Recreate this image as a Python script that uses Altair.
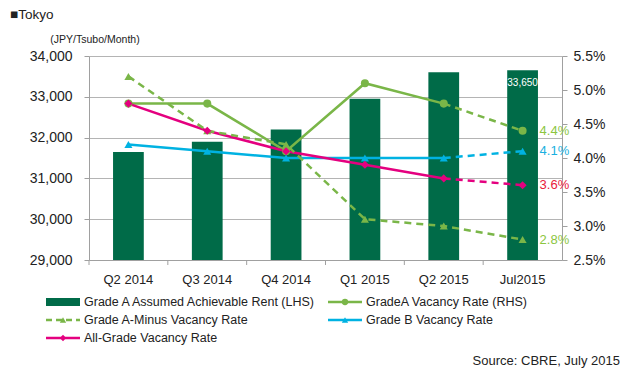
import altair as alt
import pandas as pd

# ---------------- data ----------------
categories = ["Q2 2014", "Q3 2014", "Q4 2014", "Q1 2015", "Q2 2015", "Jul2015"]
rent = [31650, 31900, 32200, 32950, 33600, 33650]

series_names = [
    "GradeA Vacancy Rate (RHS)",
    "Grade A-Minus Vacancy Rate",
    "Grade B Vacancy Rate",
    "All-Grade Vacancy Rate",
]
grade_a = [4.8, 4.8, 4.1, 5.1, 4.8, 4.4]
grade_a_minus = [5.2, 4.4, 4.2, 3.1, 3.0, 2.8]
grade_b = [4.2, 4.1, 4.0, 4.0, 4.0, 4.1]
all_grade = [4.8, 4.4, 4.1, 3.9, 3.7, 3.6]
end_labels = ["4.4%", "2.8%", "4.1%", "3.6%"]

rent_name = "Grade A Assumed Achievable Rent  (LHS)"
legend_names = [rent_name] + series_names
legend_col = [0, 1, 0, 1, 0]
legend_row = [0, 0, 1, 1, 2]

colors = ["#006b48", "#7ab648", "#7ab648", "#00b2e2", "#e4007f"]
shapes = ["circle", "triangle-up", "triangle-up", "diamond"]
label_colors = ["#8cc63f", "#8cc63f", "#1ab0e0", "#e8203a"]

FONT = "Liberation Sans"
TXT = "#222222"
W, H = 473, 204

# ---------------- frames ----------------
rent_df = pd.DataFrame({"cat": categories, "rent": rent, "label": [f"{v:,}" for v in rent]})

vals = [grade_a, grade_a_minus, grade_b, all_grade]
rows = []
for name, v, lab in zip(series_names, vals, end_labels):
    for i, (c, y) in enumerate(zip(categories, v)):
        rows.append({"cat": c, "idx": i, "series": name, "value": y,
                     "label": lab if i == len(categories) - 1 else ""})
lines_df = pd.DataFrame(rows)
n = len(categories)
solid_df = lines_df[(lines_df.idx <= n - 2) & (lines_df.series != series_names[1])]
dash_df = lines_df[(lines_df.idx >= n - 2) & (lines_df.series != series_names[1])]
aminus_df = lines_df[lines_df.series == series_names[1]]
end_df = lines_df[lines_df.idx == n - 1]

legend_df = pd.DataFrame({"name": legend_names, "col": legend_col, "row": legend_row})

color_scale = alt.Scale(domain=legend_names, range=colors)
shape_scale = alt.Scale(domain=series_names, range=shapes)

# ---------------- left (rent) layer ----------------
bars = alt.Chart(rent_df).mark_bar(color=colors[0], width=alt.RelativeBandSize(0.39), clip=True).encode(
    x=alt.X("cat:N", sort=categories, scale=alt.Scale(paddingInner=0, paddingOuter=0),
            axis=alt.Axis(title=None, ticks=False, labelAngle=0, labelOverlap=False,
                          labelFont=FONT, labelFontSize=13,
                          labelColor=TXT, labelPadding=13, domainColor="#a0a0a0")),
    y=alt.Y("rent:Q", scale=alt.Scale(domain=[29000, 34000], nice=False),
            axis=alt.Axis(title=None, values=[29000, 30000, 31000, 32000, 33000, 34000],
                          labelExpr="format(datum.value, ',')", labelFont=FONT,
                          labelFontSize=14, labelColor=TXT,
                          tickSize=5, tickColor="#a0a0a0", domainColor="#a0a0a0",
                          gridColor="#b4b4b4", labelPadding=12)),
)
bar_label = alt.Chart(rent_df[rent_df.cat == categories[-1]]).mark_text(
    color="white", font=FONT, fontSize=10, dy=13
).encode(x=alt.X("cat:N", sort=categories), y="rent:Q", text="label:N")
xticks = alt.Chart(rent_df).mark_rule(color="#a0a0a0").encode(
    x=alt.X("cat:N", sort=categories, bandPosition=0),
    y=alt.value(H), y2=alt.value(H + 5),
)
left = alt.layer(bars, bar_label, xticks)

# ---------------- right (vacancy) layer ----------------
yr = alt.Y("value:Q", scale=alt.Scale(domain=[2.5, 5.5], nice=False),
           axis=alt.Axis(title=None, orient="right", values=[2.5, 3.0, 3.5, 4.0, 4.5, 5.0, 5.5],
                         labelExpr="format(datum.value, '.1f') + '%'", grid=False,
                         labelFont=FONT, labelFontSize=14, labelColor=TXT,
                         tickSize=5, tickColor="#a0a0a0", domainColor="#a0a0a0", labelPadding=6))
xr = alt.X("cat:N", sort=categories, scale=alt.Scale(paddingInner=0, paddingOuter=0), axis=None)
col_enc = alt.Color("series:N", scale=color_scale, legend=None)

solid = alt.Chart(solid_df).mark_line(strokeWidth=2.5).encode(
    x=xr, y=yr, color=col_enc, detail="series:N", order="idx:Q")
dashed = alt.Chart(dash_df).mark_line(strokeWidth=2.5, strokeDash=[7, 5]).encode(
    x=xr, y=yr, color=col_enc, detail="series:N", order="idx:Q")
aminus = alt.Chart(aminus_df).mark_line(strokeWidth=2.5, strokeDash=[7, 5]).encode(
    x=xr, y=yr, color=col_enc, order="idx:Q")
pts = alt.Chart(lines_df).mark_point(filled=True, size=65, opacity=1).encode(
    x=xr, y=yr, color=col_enc,
    shape=alt.Shape("series:N", scale=shape_scale, legend=None))
ends = alt.Chart(end_df).mark_text(align="left", dx=17, font=FONT, fontSize=13).encode(
    x=xr, y=yr, text="label:N",
    color=alt.Color("series:N", scale=alt.Scale(domain=series_names, range=label_colors), legend=None))
right = alt.layer(solid, dashed, aminus, pts, ends).resolve_scale(color="independent")

# ---------------- legend layer ----------------
lx = alt.X("col:Q", scale=alt.Scale(domain=[0, 1], range=[-43, 239]), axis=None)
ly = alt.Y("row:Q", scale=alt.Scale(domain=[0, 2], range=[246, 282]), axis=None)
lc = alt.Color("name:N", scale=color_scale, legend=None)
lg_rect = alt.Chart(legend_df[legend_df.name == rent_name]).mark_rect(
    x2Offset=34, yOffset=-4, y2Offset=4).encode(x=lx, x2="col:Q", y=ly, y2="row:Q", color=lc)
lg_solid = alt.Chart(legend_df[legend_df.name.isin([series_names[0], series_names[2], series_names[3]])]).mark_rule(
    x2Offset=34, strokeWidth=2.5).encode(x=lx, x2="col:Q", y=ly, color=lc)
lg_dash = alt.Chart(legend_df[legend_df.name == series_names[1]]).mark_rule(
    x2Offset=34, strokeWidth=2.5, strokeDash=[6, 4]).encode(x=lx, x2="col:Q", y=ly, color=lc)
lg_pts = alt.Chart(legend_df[legend_df.name != rent_name]).mark_point(
    filled=True, size=40, opacity=1, xOffset=17).encode(
    x=lx, y=ly, color=lc, shape=alt.Shape("name:N", scale=shape_scale, legend=None))
lg_text = alt.Chart(legend_df).mark_text(align="left", dx=38, font=FONT, fontSize=12.5,
                                         color=TXT).encode(x=lx, y=ly, text="name:N")

# ---------------- free texts ----------------
texts_df = pd.DataFrame({"t": ["■Tokyo", "(JPY/Tsubo/Month)", "Source: CBRE, July 2015"]})
t1 = alt.Chart(texts_df[texts_df.t == "■Tokyo"]).mark_text(
    align="left", font=FONT, fontSize=13.5, color=TXT).encode(
    x=alt.value(-79), y=alt.value(-41), text="t:N")
t2 = alt.Chart(texts_df[texts_df.t == "(JPY/Tsubo/Month)"]).mark_text(
    align="center", font=FONT, fontSize=10.5, color=TXT).encode(
    x=alt.value(6), y=alt.value(-16), text="t:N")
t3 = alt.Chart(texts_df[texts_df.t.str.startswith("Source")]).mark_text(
    align="right", font=FONT, fontSize=13, color=TXT).encode(
    x=alt.value(531), y=alt.value(305), text="t:N")
legend_layer = alt.layer(lg_rect, lg_solid, lg_dash, lg_pts, lg_text, t1, t2, t3)

chart = alt.layer(left, right, legend_layer).resolve_scale(
    x="independent", y="independent", color="independent", shape="independent"
).properties(
    width=W, height=H,
    autosize=alt.AutoSizeParams(type="none"),
    padding={"left": 81, "top": 48, "right": 61, "bottom": 112},
    background="white",
).configure_view(stroke=None).configure_axis(domainWidth=1, tickWidth=1, gridWidth=1)

chart.save("out.html", embed_options={"renderer": "svg", "actions": False})
